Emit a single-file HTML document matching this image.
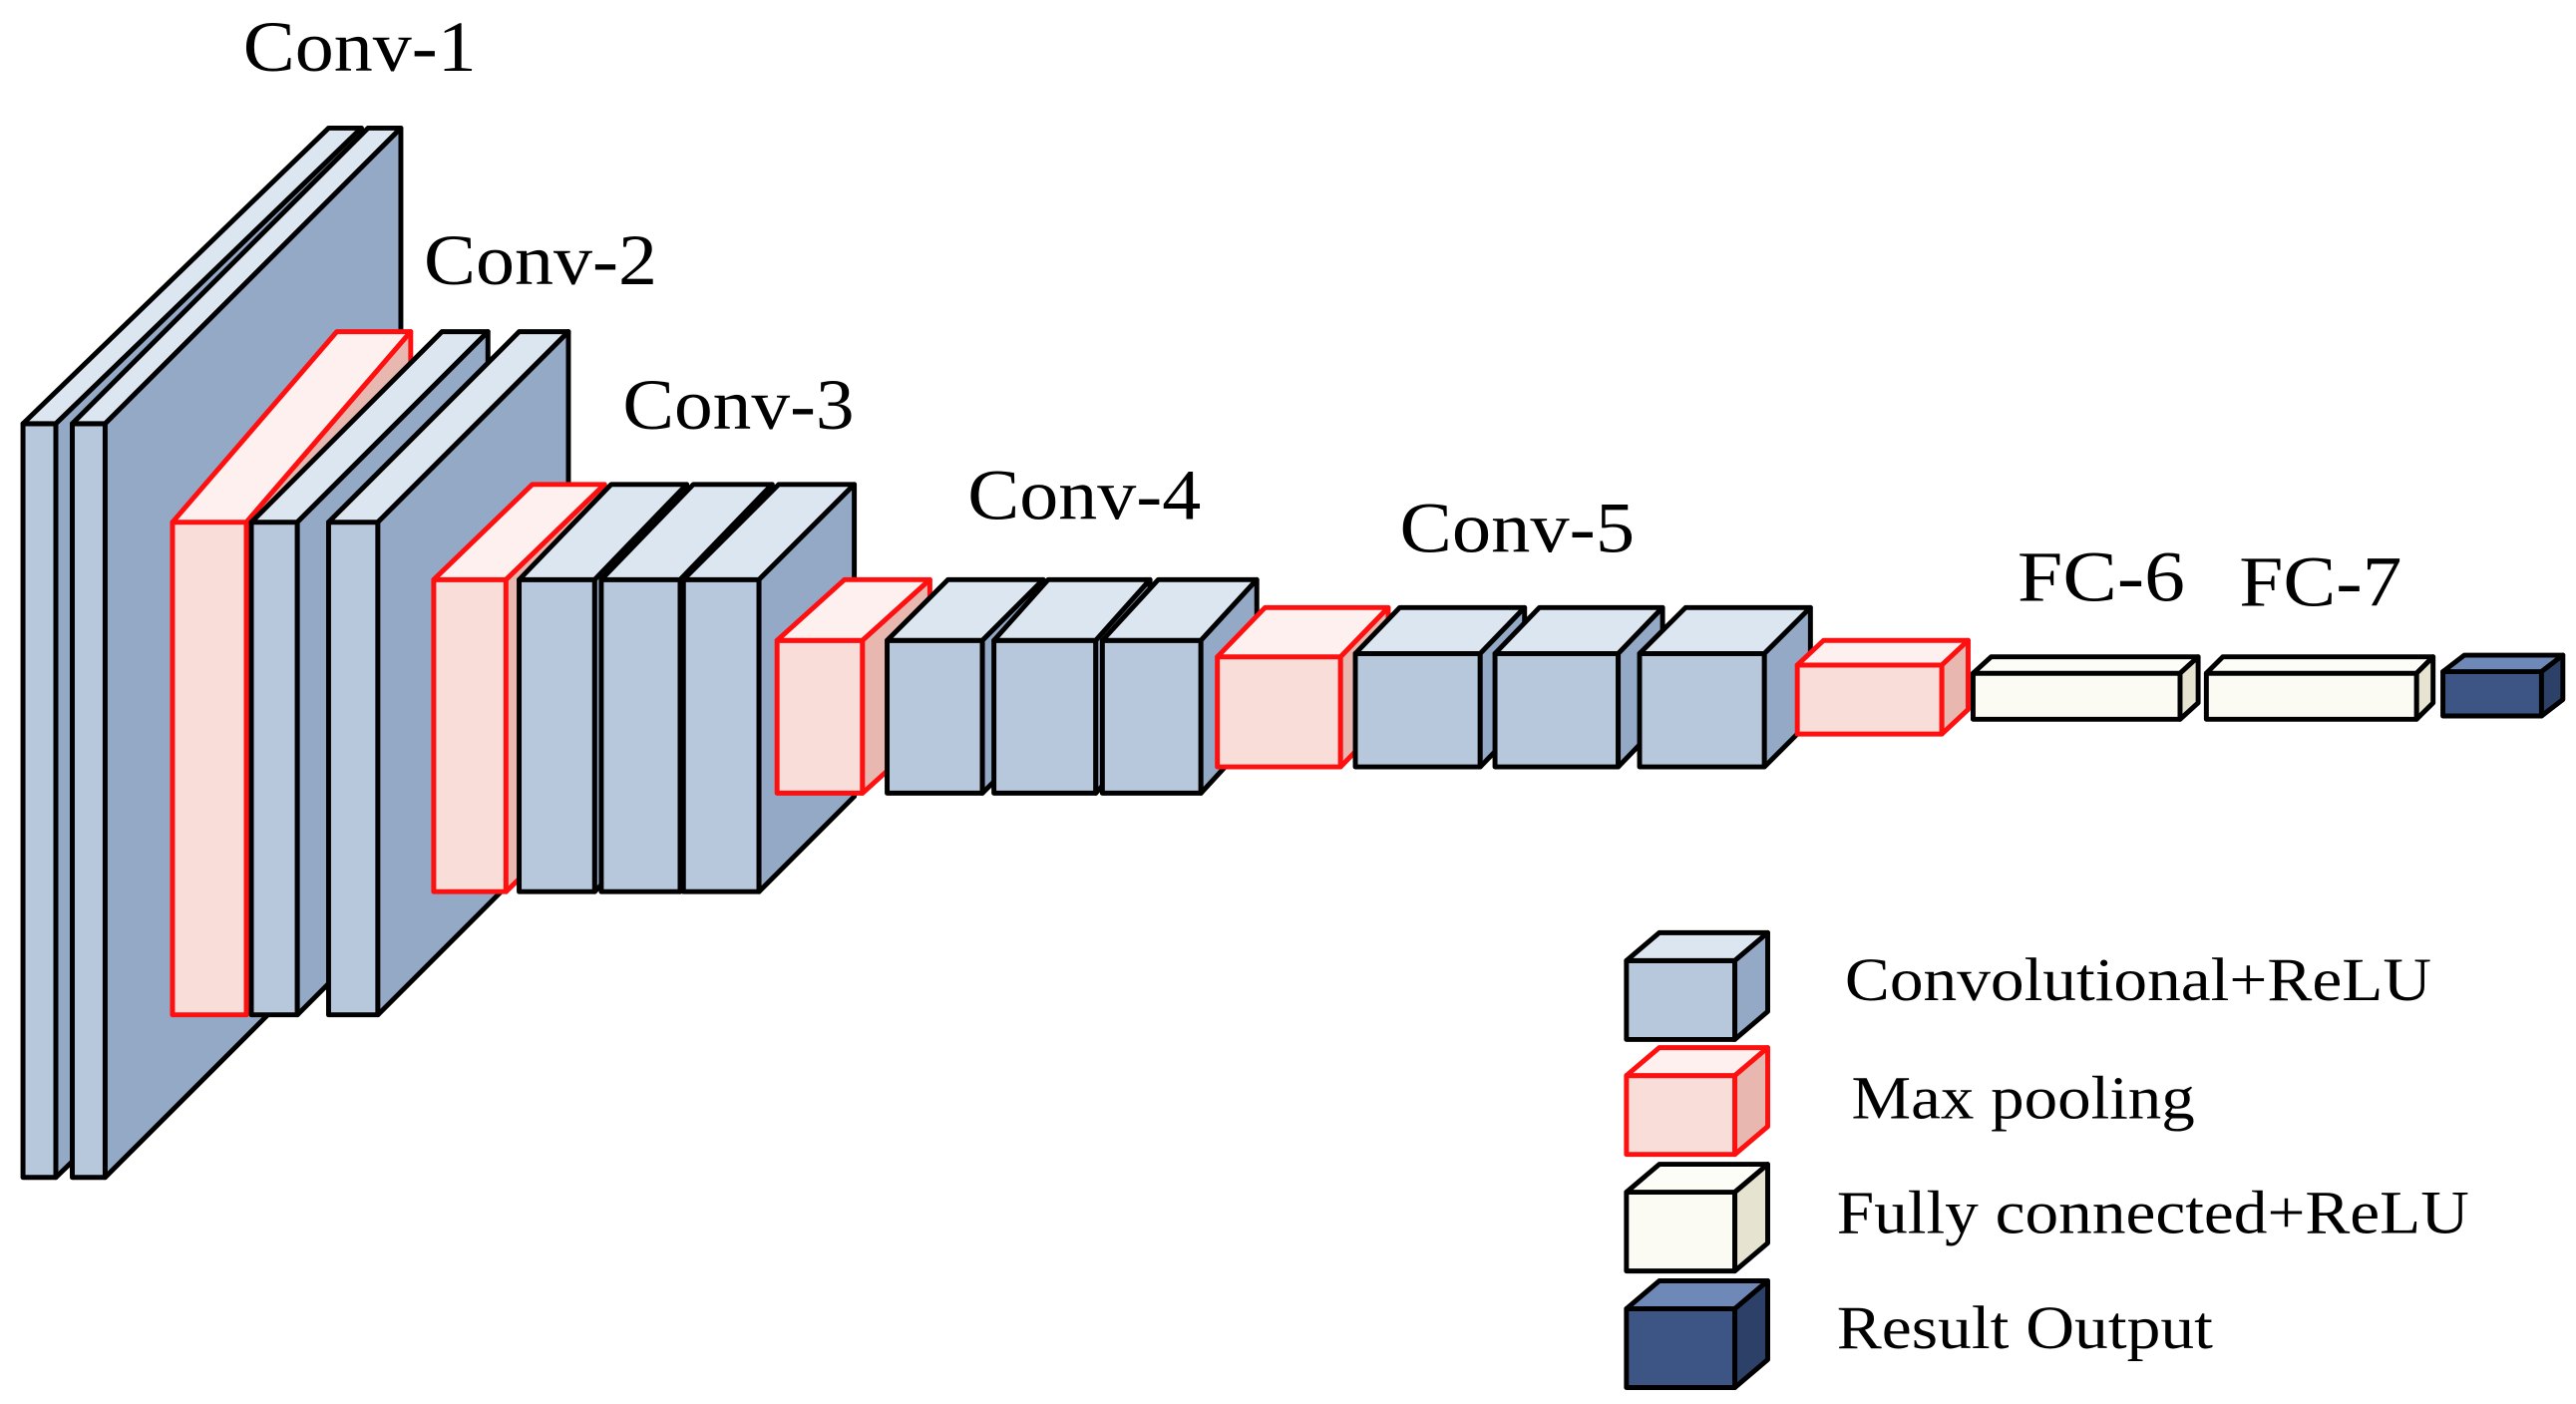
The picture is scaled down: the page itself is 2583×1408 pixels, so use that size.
<!DOCTYPE html>
<html><head><meta charset="utf-8"><style>
html,body{margin:0;padding:0;background:#fff;}
svg{display:block;}
.c polygon,.c rect{fill:#b8c8dc;stroke:#000;stroke-width:3;stroke-linejoin:round;}
.c .t{fill:#dce6f0;} .c .s{fill:#94a9c6;}
.p polygon,.p rect{fill:#f8ddd8;stroke:#ff1010;stroke-width:3;stroke-linejoin:round;}
.p .t{fill:#fdf0ee;} .p .s{fill:#e8b8b0;}
.f polygon,.f rect{fill:#fbfbf3;stroke:#000;stroke-width:3;stroke-linejoin:round;}
.f .t{fill:#fdfdf8;} .f .s{fill:#e6e3d0;}
.o polygon,.o rect{fill:#3d5585;stroke:#000;stroke-width:3;stroke-linejoin:round;}
.o .t{fill:#6e88b8;} .o .s{fill:#2c4068;}
text{font-family:"Liberation Serif",serif;fill:#000;}
</style></head><body>
<svg width="2583" height="1408" viewBox="0 0 1568 855" preserveAspectRatio="none" xmlns="http://www.w3.org/2000/svg">
<g class="c"><rect x="14" y="258" width="20" height="459"/><polygon class="t" points="14,258 200,78 220,78 34,258"/><polygon class="s" points="34,258 220,78 220,537 34,717"/></g>
<g class="c"><rect x="44" y="258" width="20" height="459"/><polygon class="t" points="44,258 224,78 244,78 64,258"/><polygon class="s" points="64,258 244,78 244,537 64,717"/></g>
<g class="p"><rect x="105" y="318" width="45" height="300"/><polygon class="t" points="105,318 205,202 250,202 150,318"/><polygon class="s" points="150,318 250,202 250,502 150,618"/></g>
<g class="c"><rect x="153" y="318" width="28" height="300"/><polygon class="t" points="153,318 269,202 297,202 181,318"/><polygon class="s" points="181,318 297,202 297,502 181,618"/></g>
<g class="c"><rect x="200" y="318" width="30" height="300"/><polygon class="t" points="200,318 316,202 346,202 230,318"/><polygon class="s" points="230,318 346,202 346,502 230,618"/></g>
<g class="p"><rect x="264" y="353" width="44" height="190"/><polygon class="t" points="264,353 324,295 368,295 308,353"/><polygon class="s" points="308,353 368,295 368,485 308,543"/></g>
<g class="c"><rect x="316" y="353" width="46" height="190"/><polygon class="t" points="316,353 372,295 418,295 362,353"/><polygon class="s" points="362,353 418,295 418,485 362,543"/></g>
<g class="c"><rect x="366" y="353" width="48" height="190"/><polygon class="t" points="366,353 422,295 470,295 414,353"/><polygon class="s" points="414,353 470,295 470,485 414,543"/></g>
<g class="c"><rect x="416" y="353" width="46" height="190"/><polygon class="t" points="416,353 474,295 520,295 462,353"/><polygon class="s" points="462,353 520,295 520,485 462,543"/></g>
<g class="p"><rect x="473" y="390" width="52" height="93"/><polygon class="t" points="473,390 514,353 566,353 525,390"/><polygon class="s" points="525,390 566,353 566,446 525,483"/></g>
<g class="c"><rect x="540" y="390" width="58" height="93"/><polygon class="t" points="540,390 577,353 635,353 598,390"/><polygon class="s" points="598,390 635,353 635,446 598,483"/></g>
<g class="c"><rect x="605" y="390" width="62" height="93"/><polygon class="t" points="605,390 638,353 700,353 667,390"/><polygon class="s" points="667,390 700,353 700,446 667,483"/></g>
<g class="c"><rect x="671" y="390" width="60" height="93"/><polygon class="t" points="671,390 705,353 765,353 731,390"/><polygon class="s" points="731,390 765,353 765,446 731,483"/></g>
<g class="p"><rect x="741" y="400" width="75" height="67"/><polygon class="t" points="741,400 770,370 845,370 816,400"/><polygon class="s" points="816,400 845,370 845,437 816,467"/></g>
<g class="c"><rect x="825" y="398" width="76" height="69"/><polygon class="t" points="825,398 852,370 928,370 901,398"/><polygon class="s" points="901,398 928,370 928,439 901,467"/></g>
<g class="c"><rect x="910" y="398" width="75" height="69"/><polygon class="t" points="910,398 937,370 1012,370 985,398"/><polygon class="s" points="985,398 1012,370 1012,439 985,467"/></g>
<g class="c"><rect x="998" y="398" width="76" height="69"/><polygon class="t" points="998,398 1026,370 1102,370 1074,398"/><polygon class="s" points="1074,398 1102,370 1102,439 1074,467"/></g>
<g class="p"><rect x="1094" y="405" width="88" height="42"/><polygon class="t" points="1094,405 1110,390 1198,390 1182,405"/><polygon class="s" points="1182,405 1198,390 1198,432 1182,447"/></g>
<g class="f"><rect x="1201" y="410" width="126" height="28"/><polygon class="t" points="1201,410 1212,400 1338,400 1327,410"/><polygon class="s" points="1327,410 1338,400 1338,428 1327,438"/></g>
<g class="f"><rect x="1343" y="410" width="128" height="28"/><polygon class="t" points="1343,410 1353,400 1481,400 1471,410"/><polygon class="s" points="1471,410 1481,400 1481,428 1471,438"/></g>
<g class="o"><rect x="1487" y="409" width="60" height="27"/><polygon class="t" points="1487,409 1500,399 1560,399 1547,409"/><polygon class="s" points="1547,409 1560,399 1560,426 1547,436"/></g>

<g class="c"><rect x="990" y="585" width="66" height="48"/><polygon class="t" points="990,585 1010,568 1076,568 1056,585"/><polygon class="s" points="1056,585 1076,568 1076,616 1056,633"/></g>
<g class="p"><rect x="990" y="655" width="66" height="48"/><polygon class="t" points="990,655 1010,638 1076,638 1056,655"/><polygon class="s" points="1056,655 1076,638 1076,686 1056,703"/></g>
<g class="f"><rect x="990" y="726" width="66" height="48"/><polygon class="t" points="990,726 1010,709 1076,709 1056,726"/><polygon class="s" points="1056,726 1076,709 1076,757 1056,774"/></g>
<g class="o"><rect x="990" y="797" width="66" height="48"/><polygon class="t" points="990,797 1010,780 1076,780 1056,797"/><polygon class="s" points="1056,797 1076,780 1076,828 1056,845"/></g>

<text x="148" y="43" font-size="44" textLength="142" lengthAdjust="spacingAndGlyphs">Conv-1</text>
<text x="258" y="173" font-size="44" textLength="142" lengthAdjust="spacingAndGlyphs">Conv-2</text>
<text x="379" y="261" font-size="44" textLength="141" lengthAdjust="spacingAndGlyphs">Conv-3</text>
<text x="589" y="316" font-size="44" textLength="142" lengthAdjust="spacingAndGlyphs">Conv-4</text>
<text x="852" y="336" font-size="44" textLength="143" lengthAdjust="spacingAndGlyphs">Conv-5</text>
<text x="1228" y="366" font-size="44" textLength="102" lengthAdjust="spacingAndGlyphs">FC-6</text>
<text x="1363" y="369" font-size="44" textLength="99" lengthAdjust="spacingAndGlyphs">FC-7</text>
<text x="1123" y="609" font-size="37" textLength="357" lengthAdjust="spacingAndGlyphs">Convolutional+ReLU</text>
<text x="1127" y="681" font-size="37" textLength="209" lengthAdjust="spacingAndGlyphs">Max pooling</text>
<text x="1118" y="751" font-size="37" textLength="385" lengthAdjust="spacingAndGlyphs">Fully connected+ReLU</text>
<text x="1118" y="821" font-size="37" textLength="229" lengthAdjust="spacingAndGlyphs">Result Output</text>
</svg>
</body></html>
